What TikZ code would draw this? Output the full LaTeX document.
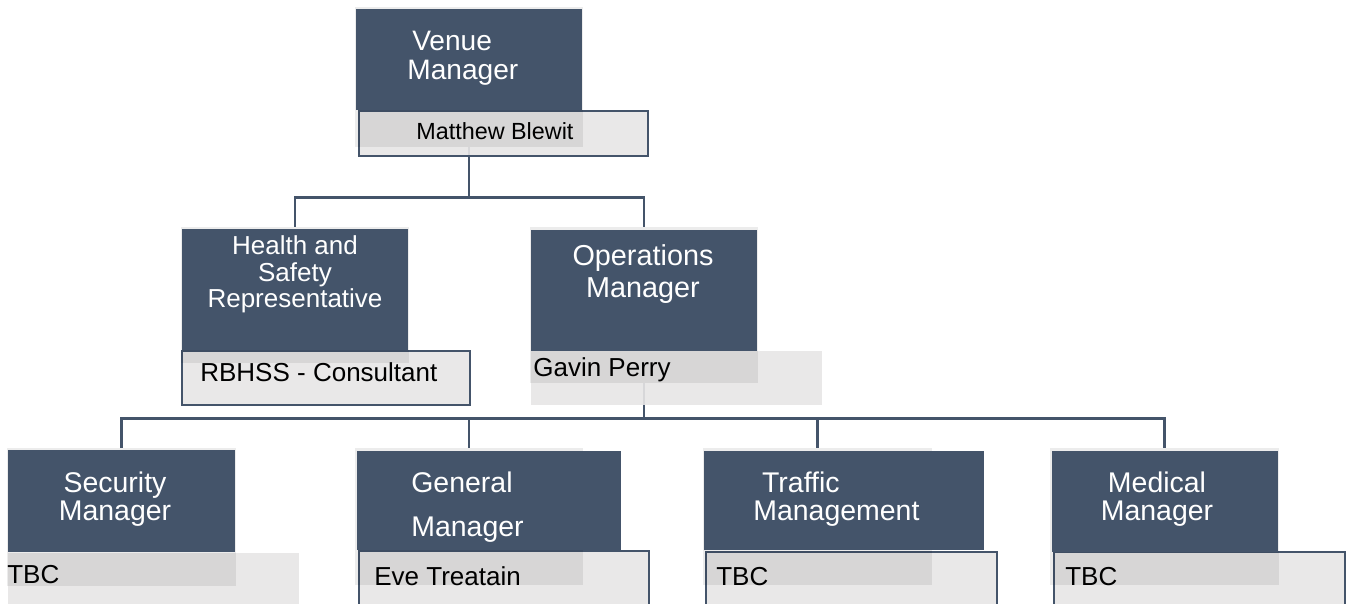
\documentclass[tikz,border=0pt]{standalone}
\usepackage{fontspec}
\setmainfont{Liberation Sans}
\usetikzlibrary{fit}

\definecolor{slate}{HTML}{44546A}
\definecolor{paper}{HTML}{E7E6E6}

\begin{document}
\begin{tikzpicture}[x=0.02cm, y=-0.02cm,
    frame/.style={inner sep=0pt},
    shade/.style={fill=black, fill opacity=0.075},
    role/.style={fill=slate, inner sep=0pt},
    holder/.style={fill=paper, fill opacity=0.9, inner sep=0pt},
    edged/.style={draw=slate, draw opacity=1, line width=1pt},
    link/.style={draw=slate, line width=1.5pt},
    title/.style={text=white, inner sep=0pt, anchor=base, align=center,
        font=\fontsize{16.2}{16.5}\selectfont},
    who/.style={text=black, inner sep=0pt, anchor=base west,
        font=\fontsize{14.8}{15}\selectfont}]

    \clip (0,0) rectangle (1350,604);
    \fill[white] (0,0) rectangle (1350,604);

    % Frames round the role boxes (filled later)
    \node[frame, fit={(355,7) (583,147)}] (venueFrame) {};
    \node[frame, fit={(181,227) (409,363)}] (hsFrame) {};
    \node[frame, fit={(530,227) (758,383)}] (opsFrame) {};
    \node[frame, fit={(7,448) (236,586)}] (secFrame) {};
    \node[frame, fit={(355,448) (583,585)}] (genFrame) {};
    \node[frame, fit={(703,448) (932,585)}] (trafFrame) {};
    \node[frame, fit={(1050,448) (1279,585)}] (medFrame) {};

    % Reporting lines
    \draw[link] (venueFrame.south) -- ++(0,50) -| (hsFrame.north);
    \draw[link] (venueFrame.south) ++(0,50) -| (opsFrame.north);
    \draw[link] (opsFrame.south) -- ++(0,35) -| (secFrame.north);
    \draw[link] (opsFrame.south) ++(0,35) -| (genFrame.north);
    \draw[link] (opsFrame.south) ++(0,35) -| (trafFrame.north);
    \draw[link] (opsFrame.south) ++(0,35) -| (medFrame.north);

    % Name boxes
    \node[holder, edged, fit={(359,111) (648,156)}] (venueBox) {};
    \node[holder, edged, fit={(182,351) (470,405)}] (hsBox) {};
    \node[holder, fit={(531,351) (822,405)}] (opsBox) {};
    \node[holder, fit={(8,553) (299,612)}] (secBox) {};
    \node[holder, edged, fit={(359,551) (649,612)}] (genBox) {};
    \node[holder, edged, fit={(706,552) (997,612)}] (trafBox) {};
    \node[holder, edged, fit={(1054,552) (1345,612)}] (medBox) {};

    % Frame shading
    \foreach \f in {venueFrame, hsFrame, opsFrame, secFrame, genFrame, trafFrame, medFrame}
        \fill[shade] (\f.north west) rectangle (\f.south east);

    % Role boxes
    \node[role, fit={(356,9) (582,110)}] (venue) {};
    \node[role, fit={(182,229) (408,350)}] (hs) {};
    \node[role, fit={(531,230) (757,351)}] (ops) {};
    \node[role, fit={(8,450) (235,552)}] (sec) {};
    \node[role, fit={(357,451) (621,550)}] (gen) {};
    \node[role, fit={(704,451) (984,550)}] (traf) {};
    \node[role, fit={(1052,451) (1278,552)}] (med) {};

    % Role titles (anchored on the last line)
    \node[title, anchor=base west, align=left, font=\fontsize{16}{17}\selectfont]
        (venueTitle) at (407,80) {\hspace*{2.8pt}Venue\\Manager};
    \node[title, font=\fontsize{14.8}{15.3}\selectfont]
        (hsTitle) at (295,308) {Health and\\Safety\\Representative};
    \node[title, font=\fontsize{16.4}{18.7}\selectfont]
        (opsTitle) at (643,298) {Operations\\Manager};
    \node[title] (secTitle) at (115,521) {Security\\Manager};
    \node[title, anchor=base west, align=left, font=\fontsize{16.2}{25.5}\selectfont]
        (genTitle) at (411,537) {General\\Manager};
    \node[title, anchor=base west, align=left]
        (trafTitle) at (753,521) {\hspace*{5pt}Traffic\\Management};
    \node[title] (medTitle) at (1157,521) {Medical\\Manager};

    % Post holders
    \node[who, font=\fontsize{13.3}{14}\selectfont] (venueName) at (416,140) {Matthew Blewit};
    \node[who] (hsName) at (200,382) {RBHSS - Consultant};
    \node[who] (opsName) at (533,377) {Gavin Perry};
    \node[who] (secName) at (7,583) {TBC};
    \node[who] (genName) at (374,585) {Eve Treatain};
    \node[who] (trafName) at (716,586) {TBC};
    \node[who] (medName) at (1065,585) {TBC};

\end{tikzpicture}
\end{document}
